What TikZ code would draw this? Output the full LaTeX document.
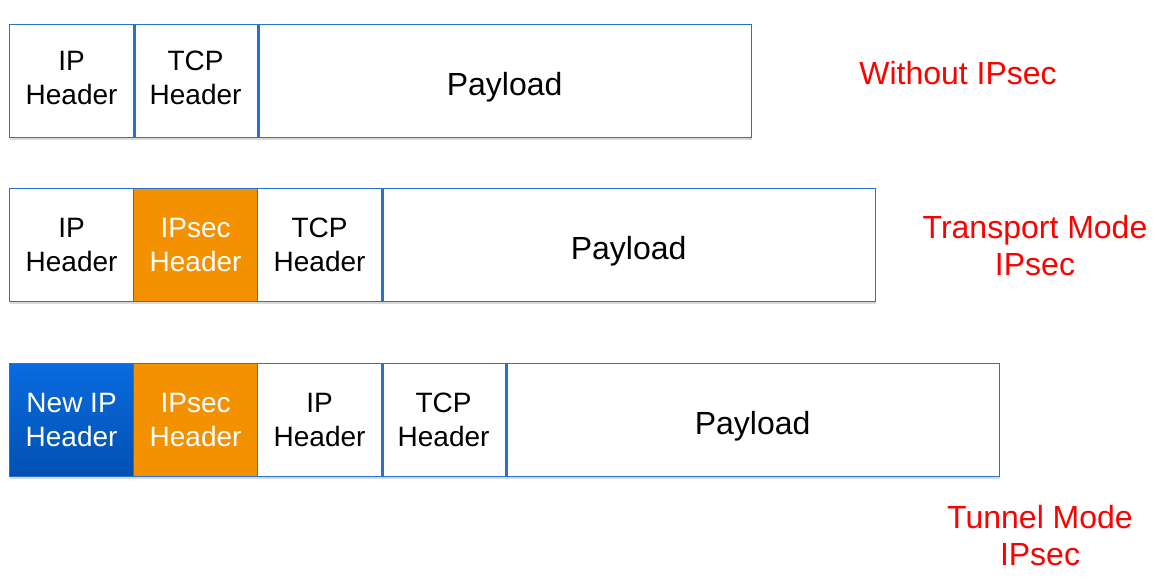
\documentclass[tikz,border=0pt]{standalone}
\usepackage{fontspec}
\setmainfont{Liberation Sans}
\usetikzlibrary{shadows}
\definecolor{edgeblue}{HTML}{2A72C8}
\definecolor{ipsecorange}{HTML}{F39100}
\definecolor{newiptop}{HTML}{0A6BE0}
\definecolor{newipbot}{HTML}{0050B0}
\definecolor{labelred}{HTML}{FF0000}
\tikzset{
  cell/.style={draw=edgeblue, line width=1.2pt, fill=white, minimum height=113pt,
    inner sep=0pt, anchor=north west, align=center,
    font=\fontsize{28}{34}\selectfont,
    drop shadow={shadow xshift=0pt, shadow yshift=-2.5pt, opacity=0.15, fill=black}},
  hcell/.style={cell, minimum width=124pt},
  toprow/.style={text depth=7pt},
  paycell/.style={cell, minimum width=494pt, font=\fontsize{32}{37}\selectfont,
    text height=28pt, text depth=0pt},
  ipseccell/.style={hcell, fill=ipsecorange, text=white},
  newipcell/.style={hcell, top color=newiptop, bottom color=newipbot, text=white},
  divider/.style={draw=edgeblue, line width=2.6pt},
  modelabel/.style={text=labelred, align=center, font=\fontsize{32}{37}\selectfont}
}
\begin{document}
\begin{tikzpicture}[x=1pt,y=-1pt]
\useasboundingbox[fill=white] (0,0) rectangle (1158,582);
% Row 1
\node[hcell, toprow] (r1a) at (9,24) {IP\\Header};
\node[hcell, toprow] (r1b) at (133,24) {TCP\\Header};
\node[paycell] (r1p) at (257,24) {Payload};
\draw[divider] (r1a.north east) -- (r1a.south east);
\draw[divider] (r1b.north east) -- (r1b.south east);
% Row 2
\node[hcell] (r2a) at (9,188) {IP\\Header};
\node[ipseccell] (r2b) at (133,188) {IPsec\\Header};
\node[hcell] (r2c) at (257,188) {TCP\\Header};
\node[paycell] (r2p) at (381,188) {Payload};
\draw[divider] (r2c.north east) -- (r2c.south east);
% Row 3
\node[newipcell] (r3a) at (9,363) {New IP\\Header};
\node[ipseccell] (r3b) at (133,363) {IPsec\\Header};
\node[hcell] (r3c) at (257,363) {IP\\Header};
\node[hcell] (r3d) at (381,363) {TCP\\Header};
\node[paycell] (r3p) at (505,363) {Payload};
\draw[divider] (r3c.north east) -- (r3c.south east);
\draw[divider] (r3d.north east) -- (r3d.south east);
% Labels
\node[modelabel, anchor=base] (l1) at (958,84) {Without IPsec};
\node[modelabel, anchor=base] (l2) at (1035,275) {Transport Mode\\IPsec};
\node[modelabel, anchor=base] (l3) at (1040,565) {Tunnel Mode\\IPsec};
\end{tikzpicture}
\end{document}
